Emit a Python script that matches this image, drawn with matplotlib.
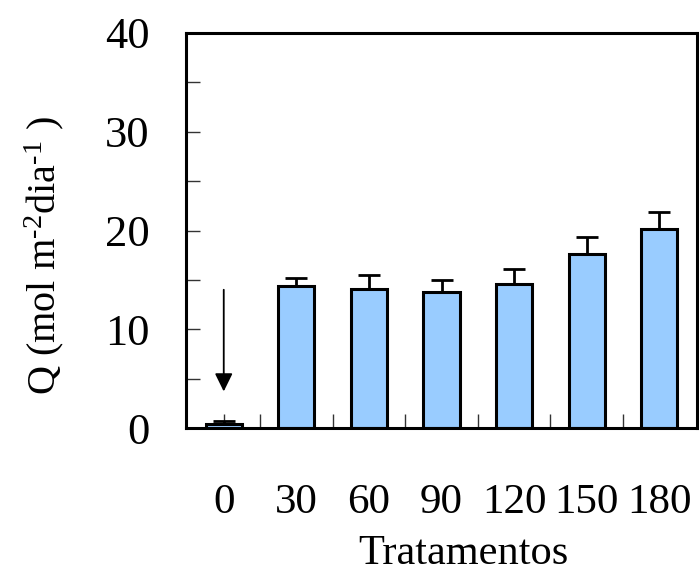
import matplotlib
matplotlib.use("Agg")
import matplotlib.pyplot as plt
import numpy as np
from matplotlib.ticker import MultipleLocator, FixedLocator

plt.rcParams['font.family'] = ['Liberation Serif', 'DejaVu Serif']
plt.rcParams['mathtext.fontset'] = 'custom'
plt.rcParams['mathtext.rm'] = 'Liberation Serif'
plt.rcParams['mathtext.it'] = 'Liberation Serif:italic'
plt.rcParams['mathtext.default'] = 'regular'

categories = ['0', '30', '60', '90', '120', '150', '180']
values = [0.4, 14.4, 14.1, 13.8, 14.6, 17.6, 20.2]
errors = [0.3, 0.8, 1.4, 1.15, 1.5, 1.7, 1.7]
arrow_from = 14.0
arrow_to = 3.7

fig = plt.figure(figsize=(6.99, 5.81), dpi=100)
ax = fig.add_axes([186/699, 1-428/581, (697-186)/699, (428-33)/581])

x = np.arange(len(categories))
ax.bar(x, values, width=0.5, color='#99CCFF', edgecolor='black', linewidth=2.2, zorder=2)
ax.errorbar(x, values, yerr=[np.zeros(len(values)), errors], fmt='none', ecolor='black',
            elinewidth=2.0, capsize=8, capthick=2.0, zorder=3)

ax.annotate('', xy=(0, arrow_to), xytext=(0, arrow_from),
            arrowprops=dict(arrowstyle='-|>,head_length=0.55,head_width=0.27', mutation_scale=20,
                            lw=1.3, color='black', shrinkA=0, shrinkB=0))

ax.set_xlim(-0.52, 6.52)
ax.set_ylim(0, 40)
ax.set_xticks(x)
ax.set_xticklabels(categories)
ax.xaxis.set_minor_locator(FixedLocator(x[:-1] + 0.5))
ax.yaxis.set_major_locator(MultipleLocator(10))
ax.yaxis.set_minor_locator(MultipleLocator(5))

for s in ax.spines.values():
    s.set_linewidth(2.2)

ax.tick_params(axis='both', which='both', direction='in', length=10, width=1.0, color='#333333')
ax.tick_params(axis='y', which='major', labelsize=32, pad=26)
ax.tick_params(axis='x', which='major', labelsize=31, pad=40)
ax.tick_params(top=False, right=False)

ax.set_xlabel('Tratamentos', fontsize=30.5, va='top')
ax.xaxis.set_label_coords((463-186)/511, (428-534)/395)
fig.text(44/699, 1-256/581, 'Q (mol m$^{\u20102}$dia$^{\u20101}$ )', rotation=90, fontsize=29,
         ha='center', va='center')

fig.savefig('out.png', dpi=100)
